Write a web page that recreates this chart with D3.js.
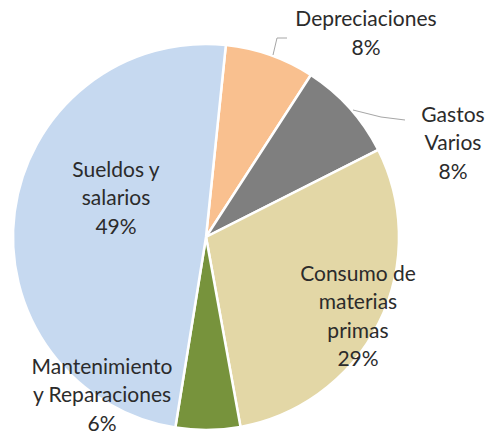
<!DOCTYPE html>
<html>
<head>
<meta charset="utf-8">
<script src="https://cdn.jsdelivr.net/npm/d3@7"></script>
<style>
  html, body { margin: 0; padding: 0; background: #fff; }
  svg text { font-family: Lato, "Open Sans", sans-serif; fill: #2b2b2b; }
</style>
</head>
<body>
<svg id="chart" width="491" height="435"></svg>
<script>
// Data
const categories = ["Depreciaciones", "Gastos Varios", "Consumo de materias primas", "Mantenimiento y Reparaciones", "Sueldos y salarios"];
const values     = [7.5, 8.4, 29.6, 5.4, 49.1];
const pctLabels  = ["8%", "8%", "29%", "6%", "49%"];
const labelLines = [["Depreciaciones"], ["Gastos", "Varios"], ["Consumo de", "materias", "primas"], ["Mantenimiento", "y Reparaciones"], ["Sueldos y", "salarios"]];
const colors     = ["#f9c08f", "#7f7f7f", "#e3d7a6", "#77933c", "#c6d9f0"];

const svg = d3.select("#chart");
const cx = 206, cy = 237, R = 193;

// label block centres, relative to the pie centre (Excel "best fit" spots)
const labelAt = {
  "Depreciaciones": [160, -204],
  "Gastos Varios": [247, -94],
  "Consumo de materias primas": [152, 79],
  "Mantenimiento y Reparaciones": [-104, 158],
  "Sueldos y salarios": [-90, -39]
};

const data = categories.map((c, i) => ({ name: c, value: values[i], pct: pctLabels[i], lines: labelLines[i], color: colors[i] }));

const pie = d3.pie().value(d => d.value).sort(null)
  .startAngle(0.103).endAngle(0.103 + 2 * Math.PI);
const arc = d3.arc().innerRadius(0).outerRadius(R);

const g = svg.append("g").attr("transform", `translate(${cx},${cy})`);

g.selectAll("path.slice")
  .data(pie(data))
  .join("path")
    .attr("class", "slice")
    .attr("d", arc)
    .attr("fill", d => d.data.color)
    .attr("stroke", "#fff")
    .attr("stroke-width", 2.5);

// leader lines
const lineG = g.append("g").attr("fill", "none").attr("stroke", "#a6a6a6").attr("stroke-width", 1);
lineG.append("path").attr("d", d3.line()([[67, -182], [71, -199], [81, -199]]));
lineG.append("path").attr("d", d3.line()([[147, -127], [175, -120], [199, -117]]));

// labels
const lineH = 28.5;
const lab = g.selectAll("text.lab")
  .data(pie(data))
  .join("text")
    .attr("class", "lab")
    .attr("text-anchor", "middle")
    .attr("font-size", 21);

lab.each(function(d) {
  const rows = d.data.lines.concat([d.data.pct]);
  const [lx, ly] = labelAt[d.data.name];
  const y0 = ly - (rows.length - 1) * lineH / 2;
  d3.select(this).selectAll("tspan")
    .data(rows)
    .join("tspan")
      .attr("x", lx)
      .attr("y", (r, i) => y0 + i * lineH)
      .attr("dy", "0.35em")
      .text(r => r);
});
</script>
</body>
</html>
